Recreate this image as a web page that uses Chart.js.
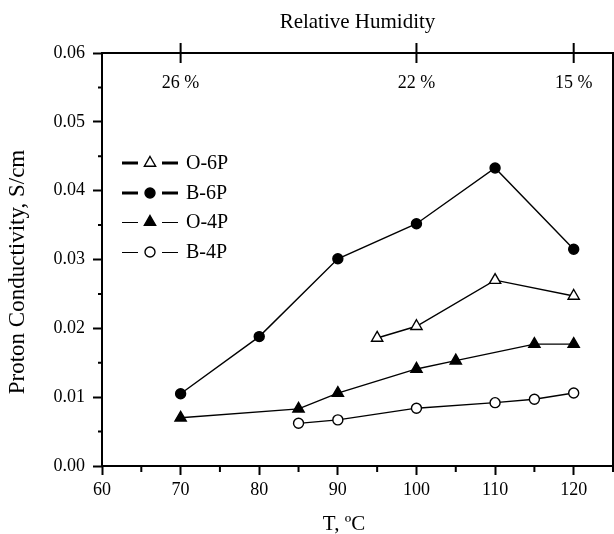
<!DOCTYPE html>
<html>
<head>
<meta charset="utf-8">
<script src="https://cdn.jsdelivr.net/npm/chart.js@4"></script>
<style>
  html, body { margin: 0; padding: 0; background: #fff; overflow: hidden; }
  #wrap { width: 614px; height: 534px; }
  #chart { display: block; }
</style>
</head>
<body>
<div id="wrap"><canvas id="chart"></canvas></div>
<script>
// temperatures (deg C) and conductivities (S/cm)
const o6pT = [95, 100, 110, 120];
const o6pS = [0.0186, 0.0203, 0.0270, 0.0247];
const b6pT = [70, 80, 90, 100, 110, 120];
const b6pS = [0.0105, 0.0188, 0.0301, 0.0352, 0.0433, 0.0315];
const o4pT = [70, 85, 90, 100, 105, 115, 120];
const o4pS = [0.0070, 0.0083, 0.0106, 0.0141, 0.0153, 0.0177, 0.0177];
const b4pT = [85, 90, 100, 110, 115, 120];
const b4pS = [0.0062, 0.0067, 0.0084, 0.0092, 0.0097, 0.0106];

const xTicks = [60, 70, 80, 90, 100, 110, 120];
const xMinor = [65, 75, 85, 95, 105, 115, 125];
const yMinor = [0.005, 0.015, 0.025, 0.035, 0.045, 0.055];
const rhTicks = [70, 100, 120];
const rhLabels = ['26 %', '22 %', '15 %'];

const serif = "'Liberation Serif', 'Times New Roman', serif";
Chart.defaults.font.family = serif;
Chart.defaults.font.size = 18;
Chart.defaults.color = '#000';

function pts(t, s) { return t.map((v, i) => ({ x: v, y: s[i] })); }

function series(label, t, s, style, fill, radius, legendWidth) {
  return {
    label, data: pts(t, s),
    borderColor: '#000', borderWidth: 1.4,
    pointStyle: style, pointRadius: radius,
    pointBackgroundColor: fill, pointBorderColor: '#000', pointBorderWidth: 1.4,
    legendLineWidth: legendWidth
  };
}

// frame, minor ticks, humidity axis ticks/labels, axis titles and the line+marker legend
const extras = {
  id: 'extras',
  afterDraw(chart) {
    const { ctx, chartArea: a, scales } = chart;
    const x = scales.x, y = scales.y, rh = scales.rh;
    ctx.save();
    ctx.strokeStyle = '#000';
    ctx.lineWidth = 2;
    ctx.strokeRect(a.left, a.top, a.right - a.left, a.bottom - a.top);

    ctx.beginPath();
    yMinor.forEach(v => {
      const p = y.getPixelForValue(v);
      ctx.moveTo(a.left - 4, p); ctx.lineTo(a.left, p);
    });
    xMinor.forEach(v => {
      const p = x.getPixelForValue(v);
      ctx.moveTo(p, a.bottom); ctx.lineTo(p, a.bottom + 6);
    });
    ctx.stroke();

    ctx.beginPath();
    rhTicks.forEach(v => {
      const p = rh.getPixelForValue(v);
      ctx.moveTo(p, a.top - 10); ctx.lineTo(p, a.top + 10);
    });
    ctx.stroke();

    ctx.fillStyle = '#000';
    ctx.font = '18px ' + serif;
    ctx.textAlign = 'center';
    ctx.textBaseline = 'middle';
    rhTicks.forEach((v, i) => ctx.fillText(rhLabels[i], rh.getPixelForValue(v), a.top + 30));

    // axis titles (placed like the original, slightly off-centre)
    ctx.font = '21px ' + serif;
    ctx.fillText('T, ºC', 344, 524);
    ctx.save();
    ctx.translate(18, 272);
    ctx.rotate(-Math.PI / 2);
    ctx.font = '23px ' + serif;
    ctx.fillText('Proton Conductivity, S/cm', 0, 0);
    ctx.restore();

    // legend
    ctx.textAlign = 'left';
    ctx.font = '20px ' + serif;
    chart.data.datasets.forEach((ds, i) => {
      const ly = Math.round(a.top + 110 + i * 29.5);
      const lx = a.left + 20;
      const ll = ds.legendLineWidth === 1 ? ly + 0.5 : ly;
      ctx.lineWidth = ds.legendLineWidth;
      ctx.beginPath();
      ctx.moveTo(lx, ll); ctx.lineTo(lx + 16, ll);
      ctx.moveTo(lx + 40, ll); ctx.lineTo(lx + 56, ll);
      ctx.stroke();
      ctx.lineWidth = 1.4;
      ctx.fillStyle = ds.pointBackgroundColor;
      Chart.helpers.drawPoint(ctx, { pointStyle: ds.pointStyle, radius: ds.pointRadius, borderWidth: 1.4 }, lx + 28, ly);
      ctx.fillStyle = '#000';
      ctx.fillText(ds.label, lx + 64, ly + 1);
    });
    ctx.restore();
  }
};

function noPad(s) { s.paddingLeft = 0; s.paddingRight = 0; }

new Chart(document.getElementById('chart'), {
  type: 'line',
  data: {
    datasets: [
      series('O-6P', o6pT, o6pS, 'triangle', '#fff', 6.5, 3),
      series('B-6P', b6pT, b6pS, 'circle', '#000', 5, 3),
      series('O-4P', o4pT, o4pS, 'triangle', '#000', 6.5, 1),
      series('B-4P', b4pT, b4pS, 'circle', '#fff', 5, 1)
    ]
  },
  options: {
    responsive: true,
    maintainAspectRatio: false,
    animation: false,
    layout: { autoPadding: false, padding: { right: 1, left: 0, top: 0, bottom: 0 } },
    plugins: { legend: { display: false }, tooltip: { enabled: false } },
    scales: {
      x: {
        type: 'linear', position: 'bottom', min: 60, max: 125,
        afterBuildTicks: s => { s.ticks = xTicks.map(v => ({ value: v })); },
        afterFit: s => { s.height = 68; noPad(s); },
        border: { display: false },
        grid: { drawOnChartArea: false, tickLength: 9, tickWidth: 2, tickColor: '#000' },
        ticks: { padding: 4, maxRotation: 0 },
        title: { display: false }
      },
      rh: {
        type: 'linear', position: 'top', min: 60, max: 125,
        afterFit: s => { s.height = 53; noPad(s); },
        border: { display: false },
        grid: { display: false },
        ticks: { display: false },
        title: { display: true, text: 'Relative Humidity', font: { size: 21 }, padding: { top: 10 } }
      },
      y: {
        min: 0, max: 0.06,
        afterFit: s => { s.width = 102; },
        border: { display: false },
        grid: { drawOnChartArea: false, tickLength: 9, tickWidth: 2, tickColor: '#000' },
        ticks: { stepSize: 0.01, padding: 8, callback: v => v.toFixed(2) },
        title: { display: false }
      }
    }
  },
  plugins: [extras]
});
</script>
</body>
</html>
